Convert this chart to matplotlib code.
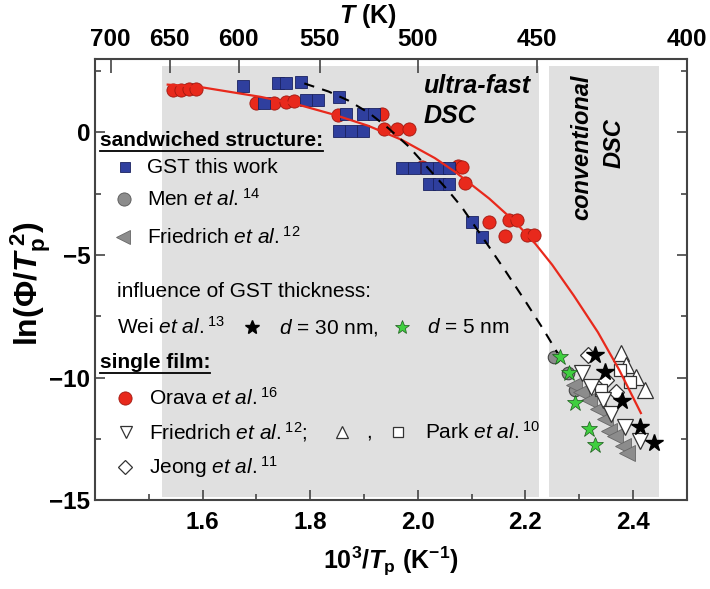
import matplotlib
matplotlib.use("Agg")
import matplotlib.pyplot as plt
from matplotlib.lines import Line2D

plt.rcParams['font.family'] = ['Liberation Sans', 'DejaVu Sans']
plt.rcParams['mathtext.fontset'] = 'custom'
plt.rcParams['mathtext.rm'] = 'Liberation Sans'
plt.rcParams['mathtext.it'] = 'Liberation Sans:italic'
plt.rcParams['mathtext.bf'] = 'Liberation Sans:bold'
plt.rcParams['mathtext.bfit'] = 'Liberation Sans:bold:italic'
plt.rcParams['axes.unicode_minus'] = True

# --- data (x = 10^3/Tp, y = ln(phi/Tp^2)) ---
orava_x = [1.544, 1.559, 1.574, 1.587, 1.699, 1.733, 1.755, 1.770, 1.852, 1.933,
           1.938, 1.961, 1.983, 2.007, 2.075, 2.082, 2.088, 2.133, 2.170, 2.185,
           2.163, 2.204, 2.217]
orava_y = [1.75, 1.75, 1.79, 1.79, 1.22, 1.22, 1.26, 1.30, 0.73, 0.77,
           0.16, 0.16, 0.16, -1.43, -1.36, -1.40, -2.08, -3.67, -3.58, -3.58,
           -4.24, -4.20, -4.20]

gst_x = [1.675, 1.740, 1.755, 1.783, 1.714, 1.793, 1.815, 1.854, 1.867, 1.899,
         1.918, 1.854, 1.875, 1.899, 1.970, 1.993, 2.017, 2.039, 2.058, 2.021,
         2.039, 2.058, 2.101, 2.120]
gst_y = [1.91, 2.00, 2.00, 2.04, 1.22, 1.34, 1.34, 1.43, 0.77, 0.77,
         0.77, 0.04, 0.04, 0.04, -1.47, -1.47, -1.47, -1.47, -1.47, -2.12,
         -2.12, -2.12, -3.67, -4.28]

men_x = [2.254, 2.279, 2.292]
men_y = [-9.16, -9.82, -10.5]

fried_sw_x = [2.290, 2.303, 2.318, 2.335, 2.348, 2.355, 2.366, 2.381, 2.390]
fried_sw_y = [-10.3, -10.6, -10.9, -11.3, -11.7, -12.2, -12.4, -12.8, -13.1]

wei30_x = [2.329, 2.348, 2.379, 2.413, 2.439]
wei30_y = [-9.08, -9.78, -10.96, -12.02, -12.67]

wei5_x = [2.264, 2.282, 2.292, 2.318, 2.329]
wei5_y = [-9.16, -9.82, -11.04, -12.10, -12.75]

fried_sf_x = [2.306, 2.322, 2.344, 2.359, 2.385, 2.413]
fried_sf_y = [-9.82, -10.4, -10.9, -11.5, -12.0, -12.6]

up_x = [2.378, 2.387, 2.406, 2.422]
up_y = [-9.0, -9.5, -9.98, -10.5]

park_x = [2.376, 2.394, 2.340]
park_y = [-9.7, -10.18, -10.5]

jeong_x = [2.316, 2.368, 2.350]
jeong_y = [-9.08, -10.6, -10.1]

# fit curves read as points
red_fit_x = [1.535, 1.596, 1.708, 1.783, 1.845, 1.908, 1.970, 2.032, 2.069,
             2.133, 2.181, 2.219, 2.250, 2.290, 2.335, 2.375, 2.415]
red_fit_y = [1.95, 1.85, 1.45, 1.10, 0.72, 0.27, -0.30, -1.05, -1.60,
             -2.70, -3.65, -4.55, -5.40, -6.65, -8.15, -9.70, -11.45]

dash_fit_x = [1.789, 1.834, 1.871, 1.911, 1.946, 1.983, 2.023, 2.056, 2.082,
              2.133, 2.163, 2.202, 2.234, 2.260]
dash_fit_y = [2.0, 1.67, 1.30, 0.77, 0.16, -0.57, -1.55, -2.36, -3.05,
              -4.68, -5.65, -6.95, -8.05, -9.0]

T_ticks = [700, 650, 600, 550, 500, 450, 400]

BLUE = '#2f3f9e'
RED = '#e8291c'
GRAY = '#8c8c8c'

fig = plt.figure(figsize=(7.1, 5.89), dpi=100)
ax = fig.add_axes([0.134, 0.151, 0.833, 0.749])

# shaded regions
ax.axvspan(1.525, 2.225, ymin=0.008, ymax=0.985, color='#e0e0e0', lw=0, zorder=0)
ax.axvspan(2.245, 2.448, ymin=0.008, ymax=0.985, color='#e0e0e0', lw=0, zorder=0)

ax.plot(orava_x, orava_y, 'o', ms=9.5, mfc=RED, mec='#a01810', mew=0.6, zorder=3)
ax.plot(gst_x, gst_y, 's', ms=8, mfc=BLUE, mec='#1a2260', mew=0.6, zorder=4)
ax.plot(men_x, men_y, 'o', ms=9, mfc=GRAY, mec='#444444', mew=0.8, zorder=3)
ax.plot(fried_sw_x, fried_sw_y, '<', ms=11, mfc=GRAY, mec='#666666', mew=0.6, zorder=3)
ax.plot(jeong_x, jeong_y, 'D', ms=8, mfc='white', mec='#333333', mew=0.9, zorder=3)
ax.plot(up_x, up_y, '^', ms=11, mfc='white', mec='#333333', mew=0.9, zorder=3)
ax.plot(park_x, park_y, 's', ms=9, mfc='white', mec='#333333', mew=0.9, zorder=3)
ax.plot(fried_sf_x, fried_sf_y, 'v', ms=11, mfc='white', mec='#333333', mew=0.9, zorder=3)
ax.plot(wei5_x, wei5_y, '*', ms=12, mfc='#3fcf3f', mec='#1a5a1a', mew=0.5, zorder=5)
ax.plot(wei30_x, wei30_y, '*', ms=13, mfc='black', mec='black', zorder=5)

ax.plot(red_fit_x, red_fit_y, '-', color=RED, lw=1.6, zorder=6)
ax.plot(dash_fit_x, dash_fit_y, '--', color='black', lw=1.5, dashes=(5, 4), zorder=6)

ax.set_xlim(1.4, 2.5)
ax.set_ylim(-15, 3)
ax.set_xticks([1.6, 1.8, 2.0, 2.2, 2.4])
ax.set_xticks([1.5, 1.7, 1.9, 2.1, 2.3], minor=True)
ax.set_yticks([-15, -10, -5, 0])
ax.set_yticks([-12.5, -7.5, -2.5, 2.5], minor=True)
ax.tick_params(which='both', direction='in', labelsize=17.5, width=1.2,
               colors='#444444', labelcolor='black', right=True)
ax.tick_params(which='major', length=7)
ax.tick_params(which='minor', length=4)
ax.tick_params(axis='x', pad=8)
for lab in ax.get_xticklabels() + ax.get_yticklabels():
    lab.set_fontweight('bold')
for sp in ax.spines.values():
    sp.set_color('#444444')
    sp.set_linewidth(1.5)

top = ax.secondary_xaxis('top', functions=(lambda x: 1000.0 / x, lambda t: 1000.0 / t))
top.set_xticks(T_ticks)
top.tick_params(direction='in', length=10, width=1.2, labelsize=17.5, colors='#444444',
                labelcolor='black', pad=6)
for lab in top.get_xticklabels():
    lab.set_fontweight('bold')
top.spines['top'].set_visible(False)
fig.text(368 / 710, 1 - 16 / 589, r'$\mathbfit{T}\ \mathbf{(K)}$', fontsize=18,
         ha='center', va='center')

ax.set_xlabel(r'$\mathbf{10^3/}\mathbfit{T}_\mathbf{p}\ \mathbf{(K^{-1})}$', fontsize=18, labelpad=8)
ax.set_ylabel(r'$\mathbf{ln(\Phi/}\mathbfit{T}_\mathbf{p}^{\ \mathbf{2}}\mathbf{)}$', fontsize=23)
ax.yaxis.set_label_coords(-0.072, 0.49)

# region labels
ax.text(2.011, 1.91, 'ultra-fast', fontsize=18, fontweight='bold', style='italic',
        va='center', ha='left')
ax.text(2.011, 0.69, 'DSC', fontsize=18, fontweight='bold', style='italic',
        va='center', ha='left')
ax.text(2.306, -0.6, 'conventional', fontsize=17, fontweight='bold', style='italic',
        rotation=90, va='center', ha='center')
ax.text(2.366, -0.45, 'DSC', fontsize=17, fontweight='bold', style='italic',
        rotation=90, va='center', ha='center')

# legend built as text
fs = 15
h1 = ax.text(1.409, -0.33, 'sandwiched structure:', fontsize=fs, fontweight='bold',
             va='center', ha='left')
ax.plot([1.456], [-1.43], 's', ms=7.5, mfc=BLUE, mec='#1a2260', mew=0.6)
ax.text(1.497, -1.43, 'GST this work', fontsize=fs, va='center')
ax.plot([1.454], [-2.73], 'o', ms=9.5, mfc=GRAY, mec='#555555', mew=0.6)
ax.text(1.497, -2.73, r'Men $\mathit{et\ al.}^{14}$', fontsize=fs, va='center')
ax.plot([1.452], [-4.28], '<', ms=10, mfc=GRAY, mec='#666666', mew=0.6)
ax.text(1.497, -4.28, r'Friedrich $\mathit{et\ al.}^{12}$', fontsize=fs, va='center')

ax.text(1.441, -6.5, 'influence of GST thickness:', fontsize=fs, va='center')
ax.text(1.441, -7.94, r'Wei $\mathit{et\ al.}^{13}$', fontsize=fs, va='center')
ax.plot([1.692], [-7.94], '*', ms=10, mfc='black', mec='black')
ax.text(1.742, -7.94, r'$\mathit{d}$ = 30 nm,', fontsize=fs, va='center')
ax.plot([1.970], [-7.94], '*', ms=10, mfc='#3fcf3f', mec='#1a5a1a', mew=0.5)
ax.text(2.017, -7.94, r'$\mathit{d}$ = 5 nm', fontsize=fs, va='center')

h2 = ax.text(1.409, -9.4, 'single film:', fontsize=fs, fontweight='bold',
             va='center', ha='left')
ax.plot([1.456], [-10.83], 'o', ms=9.5, mfc=RED, mec='#a01810', mew=0.6)
ax.text(1.501, -10.83, r'Orava $\mathit{et\ al.}^{16}$', fontsize=fs, va='center')
ax.plot([1.457], [-12.22], 'v', ms=9, mfc='white', mec='#333333', mew=0.9)
ax.text(1.501, -12.22, r'Friedrich $\mathit{et\ al.}^{12}$;', fontsize=fs, va='center')
ax.plot([1.860], [-12.22], '^', ms=9, mfc='white', mec='#333333', mew=0.9)
ax.text(1.905, -12.22, ',', fontsize=fs, va='center')
ax.plot([1.964], [-12.22], 's', ms=7.5, mfc='white', mec='#333333', mew=0.9)
ax.text(2.013, -12.22, r'Park $\mathit{et\ al.}^{10}$', fontsize=fs, va='center')
ax.plot([1.456], [-13.65], 'D', ms=7.5, mfc='white', mec='#333333', mew=0.9)
ax.text(1.501, -13.65, r'Jeong $\mathit{et\ al.}^{11}$', fontsize=fs, va='center')

# underline the two headings
fig.canvas.draw()
renderer = fig.canvas.get_renderer()
for h in (h1, h2):
    bb = h.get_window_extent(renderer)
    y0 = (bb.y0 - 1) / fig.bbox.height
    fig.add_artist(Line2D([bb.x0 / fig.bbox.width, bb.x1 / fig.bbox.width], [y0, y0],
                          color='black', lw=1.3))

fig.savefig('out.png', dpi=100)
